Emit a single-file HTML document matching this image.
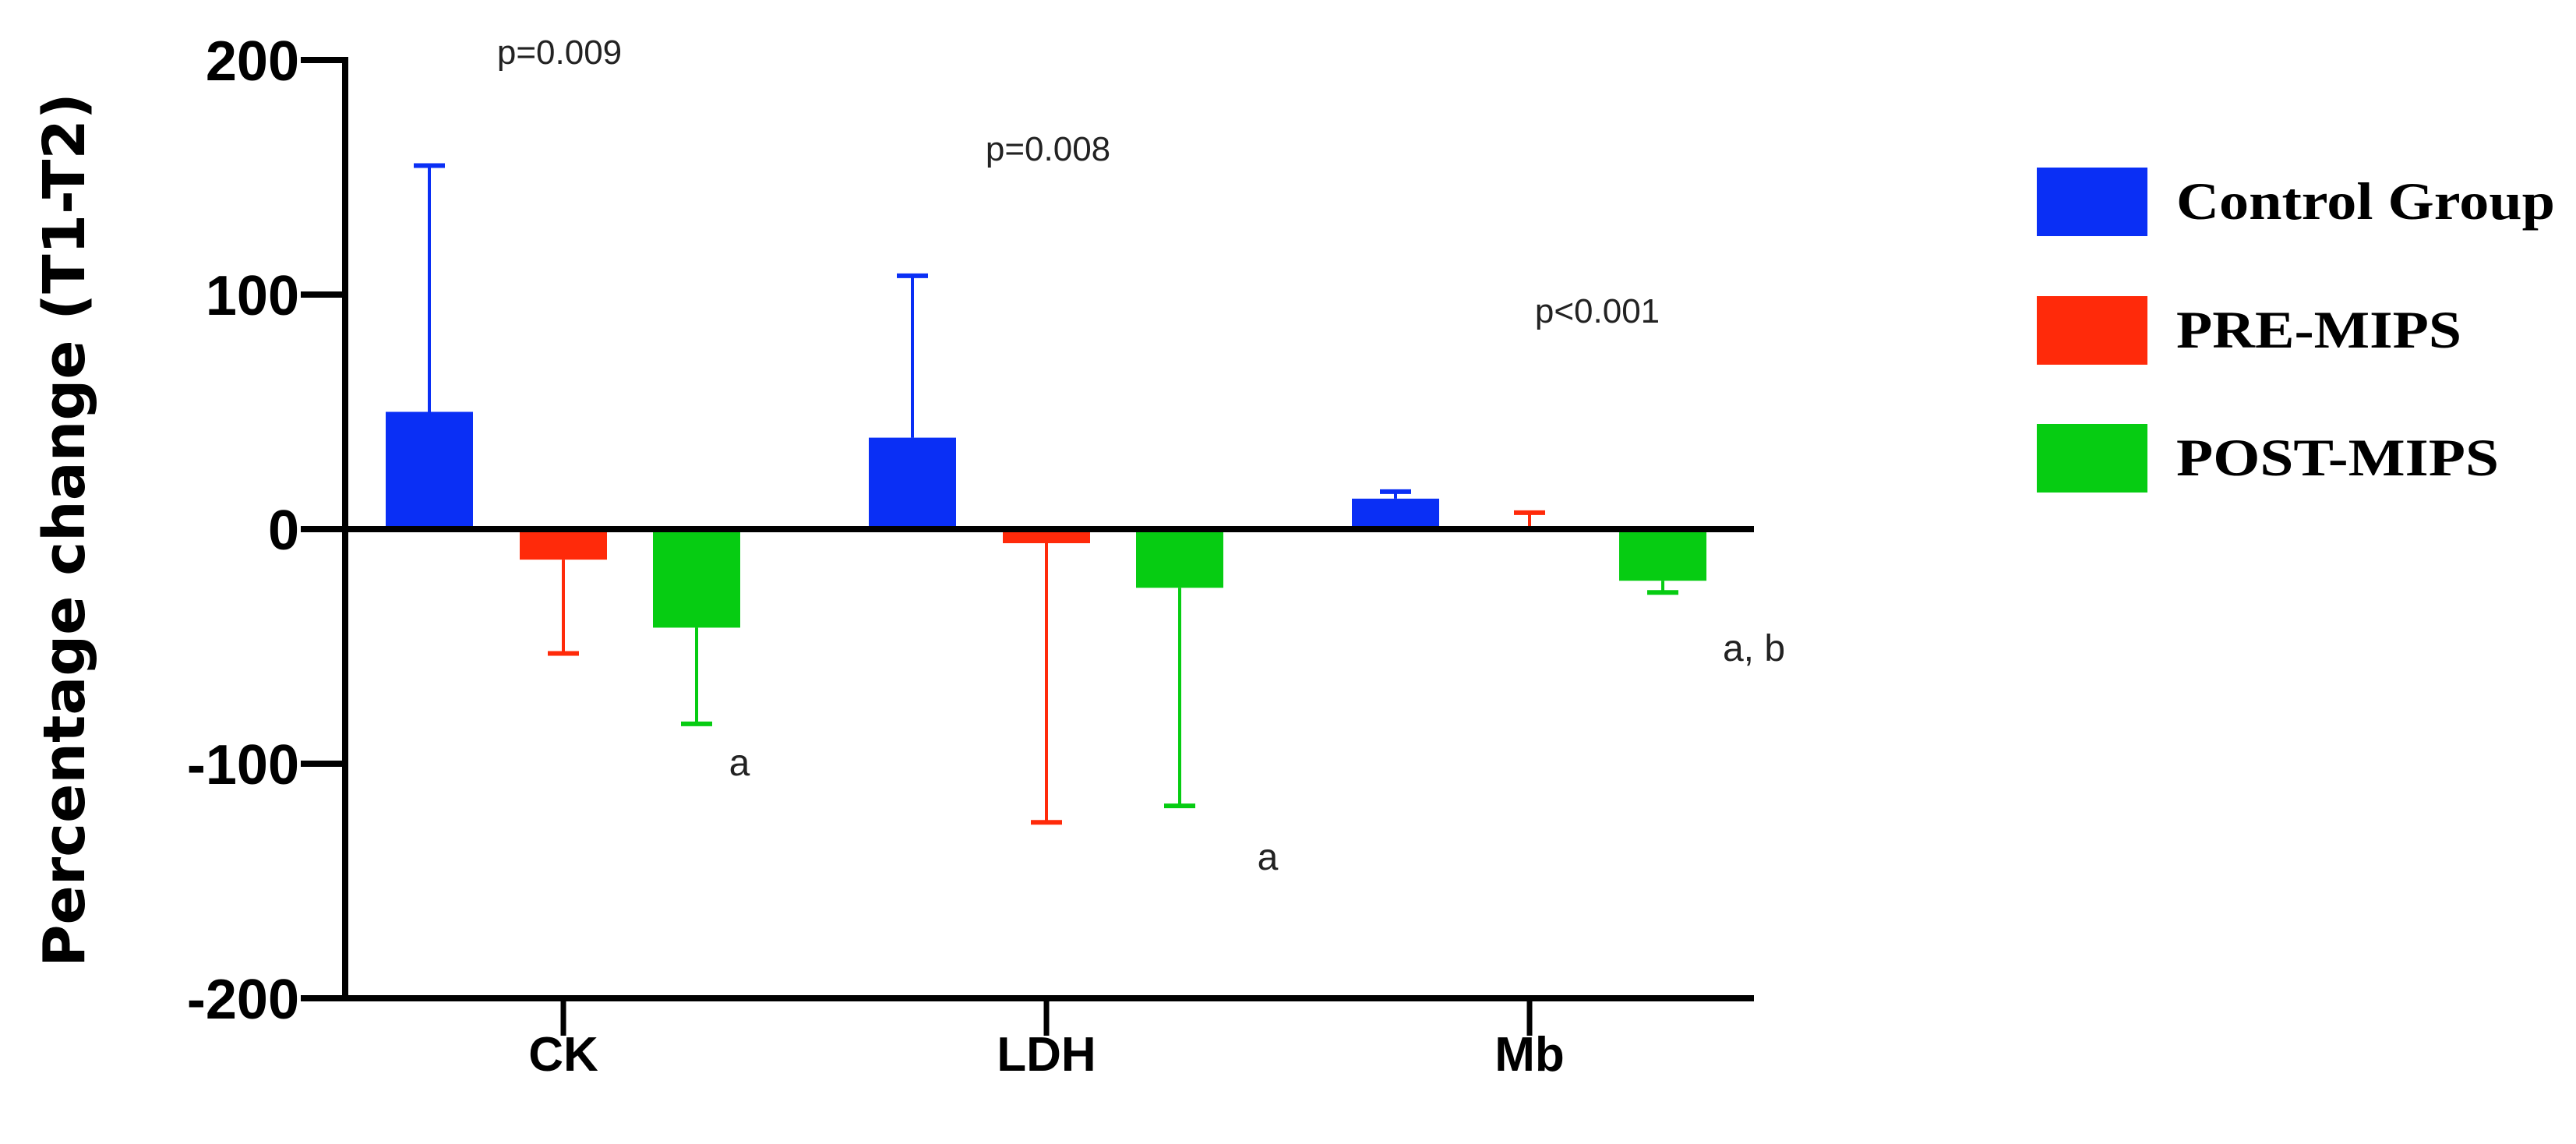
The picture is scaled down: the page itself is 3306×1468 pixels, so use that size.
<!DOCTYPE html>
<html><head><meta charset="utf-8"><style>
html,body{margin:0;padding:0;background:#fff;}
svg{display:block;}
</style></head><body>
<svg id="chart" width="3306" height="1468" viewBox="0 0 3306 1468" xmlns="http://www.w3.org/2000/svg">
<g id="plot"></g>
</svg>
<script>
const categories = ["CK","LDH","Mb"];
const seriesNames = ["Control Group","PRE-MIPS","POST-MIPS"];
const controlValues = [50, 39, 13];
const controlErr = [155, 108, 16];
const preValues = [-13, -6, 1];
const preErr = [-53, -125, 7];
const postValues = [-42, -25, -22];
const postErr = [-83, -118, -27];
const yTicks = [200, 100, 0, -100, -200];
const pLabels = ["p=0.009","p=0.008","p<0.001"];
const sigLabels = ["a","a","a, b"];

const NS="http://www.w3.org/2000/svg";
const svg=document.getElementById('plot');
const colors=["#0a2ff5","#ff2a0a","#06cc12"];
const x0=443,x1=2251;
function yScale(v){return 679 - v*3.01;}
const catX=[723,1343,1963];
function xScale(i){return catX[0]+i*(catX[1]-catX[0]);}
const offs=[-172,0,171], bw=112;
function mk(tag,attrs,parent){const e=document.createElementNS(NS,tag);for(const k in attrs)e.setAttribute(k,attrs[k]);(parent||svg).appendChild(e);return e;}

const vals=[controlValues,preValues,postValues], errs=[controlErr,preErr,postErr];
for(let s=0;s<3;s++){
  for(let i=0;i<categories.length;i++){
    const cx=xScale(i)+offs[s], v=vals[s][i], e=errs[s][i];
    const y0=yScale(0), yv=yScale(v), ye=yScale(e);
    const el=mk('line',{x1:cx,x2:cx,y1:yv,y2:ye,stroke:colors[s],'stroke-width':4});
    
    
    const cap=mk('line',{x1:cx-20,x2:cx+20,y1:ye,y2:ye,stroke:colors[s],'stroke-width':6});
    
    
    const r=mk('rect',{x:cx-bw/2,y:Math.min(y0,yv),width:bw,height:Math.max(Math.abs(yv-y0),2),fill:colors[s]});
    
    
  }
}
let ax=mk('line',{x1:x0,x2:x0,y1:yScale(200)-4,y2:yScale(-200)+4,stroke:'#000','stroke-width':8});


let zl=mk('line',{x1:x0,x2:x1,y1:yScale(0),y2:yScale(0),stroke:'#000','stroke-width':8});


let xa=mk('line',{x1:x0,x2:x1,y1:yScale(-200),y2:yScale(-200),stroke:'#000','stroke-width':8});


yTicks.forEach(t=>{
  const y=yScale(t);
  const l=mk('line',{x1:386,x2:x0,y1:y,y2:y,stroke:'#000','stroke-width':8});
  
  
  const tx=mk('text',{x:384,y:y+26,'text-anchor':'end','font-family':'Liberation Sans, sans-serif','font-weight':'bold','font-size':72});
  tx.textContent=String(t);
  
  
});
categories.forEach((c,i)=>{
  const x=xScale(i);
  const l=mk('line',{x1:x,x2:x,y1:yScale(-200),y2:yScale(-200)+48,stroke:'#000','stroke-width':7});
  
  
  const tx=mk('text',{x:x,y:1374,'text-anchor':'middle','font-family':'Liberation Sans, sans-serif','font-weight':'bold','font-size':62});
  tx.textContent=c;
  
  
});
const pPos=[[718,82],[1345,206],[2050,414]];
pLabels.forEach((p,i)=>{
  const tx=mk('text',{x:pPos[i][0],y:pPos[i][1],'text-anchor':'middle','font-family':'Liberation Sans, sans-serif','font-size':44,fill:'#222'});
  tx.textContent=p;
  
  
});
const sPos=[[949,995],[1627,1116],[2251,848]];
sigLabels.forEach((p,i)=>{
  const tx=mk('text',{x:sPos[i][0],y:sPos[i][1],'text-anchor':'middle','font-family':'Liberation Sans, sans-serif','font-size':48,fill:'#222'});
  tx.textContent=p;
  
  
});
const yt=mk('text',{x:0,y:0,transform:'translate(108,680) rotate(-90)','text-anchor':'middle','font-family':'DejaVu Sans, sans-serif','font-weight':'bold','font-size':74});
yt.textContent='Percentage change (T1-T2)';


const legY=[215,380,544];
seriesNames.forEach((n,i)=>{
  const r=mk('rect',{x:2614,y:legY[i],width:142,height:88,fill:colors[i]});
  
  
  const tx=mk('text',{x:2793,y:legY[i]+66,'font-family':'Liberation Serif, serif','font-weight':'bold','font-size':68,textLength:[486,366,414][i],lengthAdjust:'spacingAndGlyphs'});
  tx.textContent=n;
  
  
});
</script>
</body></html>
